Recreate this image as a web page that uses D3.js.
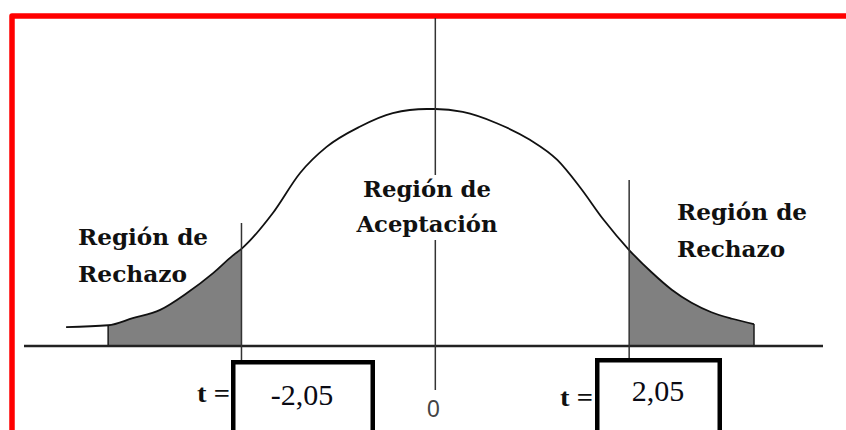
<!DOCTYPE html>
<html>
<head>
<meta charset="utf-8">
<script src="https://cdn.jsdelivr.net/npm/d3@7"></script>
<style>
html,body{margin:0;padding:0;background:#fff;}
svg{display:block;}
</style>
</head>
<body>
<script>
// ---- data ----
const axisExtent = [-4.35, 4.10];          // t range covered by the horizontal axis
const criticalT = [-2.05, 2.05];           // critical values
const criticalLabels = ["-2,05", "2,05"];
const centerLabel = "0";
const tailStart = [-3.46, 3.37];           // where shading starts / ends
// curve points (t, height)
const curveT = [-3.905, -3.46, -3.20, -2.91, -2.63, -2.35, -2.14, -2.05, -1.72, -1.43, -1.15, -0.80, -0.45, -0.09, 0,
                0.29, 0.65, 1.00, 1.29, 1.53, 1.78, 2.05, 2.29, 2.50, 2.71, 2.92, 3.14, 3.37];
const curveY = [0.032, 0.035, 0.047, 0.061, 0.089, 0.123, 0.153, 0.164, 0.224, 0.292, 0.336, 0.370, 0.393, 0.400, 0.400,
                0.395, 0.376, 0.348, 0.314, 0.268, 0.213, 0.162, 0.124, 0.095, 0.073, 0.057, 0.046, 0.037];
const regionLabels = [
  ["Región de", "Rechazo"],
  ["Región de", "Aceptación"],
  ["Región de", "Rechazo"]
];
const tPrefix = "t =";

// ---- drawing ----
const W = 846, H = 430;
const svg = d3.select("body").append("svg").attr("width", W).attr("height", H);

const x = d3.scaleLinear().domain(axisExtent).range([24, 823]);
const y = d3.scaleLinear().domain([0, 0.4]).range([346, 109]);

const pts = curveT.map((t, i) => ({t, v: curveY[i]}));

// red frame
svg.append("path")
  .attr("d", `M12,${H + 5} V16 H${W + 5}`)
  .attr("fill", "none").attr("stroke", "#ff0000")
  .attr("stroke-width", 5.5).attr("stroke-linejoin", "round");

// clip paths for shaded tails
const defs = svg.append("defs");
defs.append("clipPath").attr("id", "clipL").append("rect")
  .attr("x", x(tailStart[0])).attr("y", 0)
  .attr("width", x(criticalT[0]) - x(tailStart[0])).attr("height", H);
defs.append("clipPath").attr("id", "clipR").append("rect")
  .attr("x", x(criticalT[1])).attr("y", 0)
  .attr("width", x(tailStart[1]) - x(criticalT[1])).attr("height", H);

const area = d3.area().x(d => x(d.t)).y0(y(0)).y1(d => y(d.v)).curve(d3.curveMonotoneX);
svg.append("path").datum(pts).attr("d", area).attr("fill", "#808080").attr("clip-path", "url(#clipL)");
svg.append("path").datum(pts).attr("d", area).attr("fill", "#808080").attr("clip-path", "url(#clipR)");

// tail edge lines
[tailStart[0], tailStart[1]].forEach((t, i) => {
  const v = i === 0 ? curveY[1] : curveY[curveY.length - 1];
  svg.append("line")
    .attr("x1", x(t)).attr("x2", x(t))
    .attr("y1", y(v)).attr("y2", y(0))
    .attr("stroke", "#222").attr("stroke-width", 1.6);
});

// curve
const line = d3.line().x(d => x(d.t)).y(d => y(d.v)).curve(d3.curveMonotoneX);
svg.append("path").datum(pts).attr("d", line)
  .attr("fill", "none").attr("stroke", "#111").attr("stroke-width", 1.8);

// horizontal axis
svg.append("line")
  .attr("x1", x(axisExtent[0])).attr("x2", x(axisExtent[1]))
  .attr("y1", y(0)).attr("y2", y(0))
  .attr("stroke", "#222").attr("stroke-width", 2.6);

// center line (two segments)
[[18, 175], [240, 390]].forEach(s => {
  svg.append("line")
    .attr("x1", x(0)).attr("x2", x(0)).attr("y1", s[0]).attr("y2", s[1])
    .attr("stroke", "#333").attr("stroke-width", 1.5);
});

// critical lines
const critTop = [223, 180];
const boxTop = [360, 358];
criticalT.forEach((t, i) => {
  svg.append("line")
    .attr("x1", x(t)).attr("x2", x(t)).attr("y1", critTop[i]).attr("y2", boxTop[i] + 2)
    .attr("stroke", "#333").attr("stroke-width", 1.5);
});

// boxes
const boxX = [[231, 375], [595, 722]];
boxX.forEach((b, i) => {
  svg.append("rect")
    .attr("x", b[0] + 2.25).attr("y", boxTop[i] + 2.25)
    .attr("width", b[1] - b[0] - 4.5).attr("height", 120)
    .attr("fill", "#fff").attr("stroke", "#000").attr("stroke-width", 4.5);
});

const SERIF = "'Liberation Serif', 'Times New Roman', Times, serif";

// critical values text
const valCx = [302, 658];
const valBase = [405, 401];
criticalLabels.forEach((s, i) => {
  svg.append("text").attr("x", valCx[i]).attr("y", valBase[i])
    .attr("text-anchor", "middle")
    .style("font-family", SERIF)
    .style("font-size", "30px").attr("fill", "#0a0a14").text(s);
});

// t = labels
const tX = [197, 560];
const tBase = [402, 406];
tX.forEach((tx, i) => {
  svg.append("text").attr("x", tx).attr("y", tBase[i])
    .style("font-family", SERIF)
    .style("font-weight", "bold").style("font-size", "26px")
    .attr("textLength", 33).attr("lengthAdjust", "spacingAndGlyphs")
    .attr("fill", "#111").text(tPrefix);
});

// 0 label
svg.append("text").attr("x", x(0) - 2).attr("y", 417)
  .attr("text-anchor", "middle")
  .style("font-family", "'Liberation Sans', Arial, sans-serif")
  .style("font-size", "23px").attr("fill", "#444").text(centerLabel);

// region labels
const labelPos = [
  {x: 78, y: [245, 282], anchor: "start", w: [130, 109]},
  {x: 427, y: [197, 232], anchor: "middle", w: [128, 141]},
  {x: 677, y: [220, 257], anchor: "start", w: [130, 108]}
];
regionLabels.forEach((lines, i) => {
  lines.forEach((s, j) => {
    svg.append("text")
      .attr("x", labelPos[i].x).attr("y", labelPos[i].y[j])
      .attr("text-anchor", labelPos[i].anchor)
      .style("font-family", "'DejaVu Serif', serif")
      .style("font-weight", "bold").style("font-size", "22.5px")
      .attr("textLength", labelPos[i].w[j]).attr("lengthAdjust", "spacingAndGlyphs")
      .attr("fill", "#111").text(s);
  });
});
</script>
</body>
</html>
